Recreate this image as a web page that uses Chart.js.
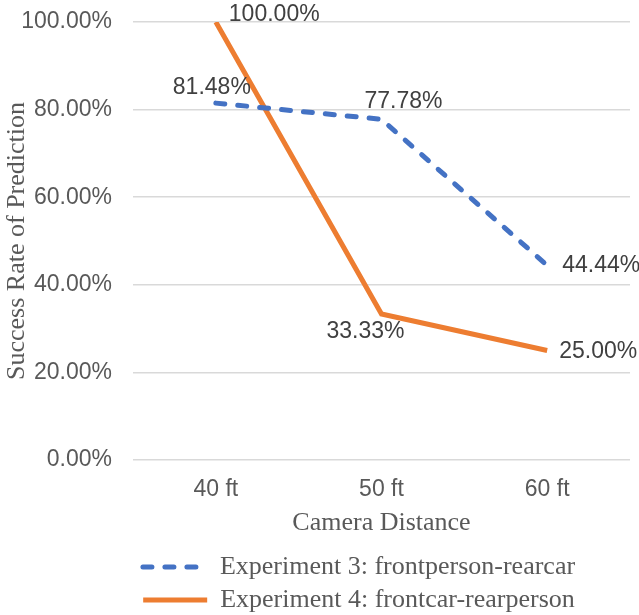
<!DOCTYPE html>
<html>
<head>
<meta charset="utf-8">
<script src="https://cdn.jsdelivr.net/npm/chart.js@4"></script>
<style>
html, body { margin: 0; padding: 0; background: #fff; }
#wrap { width: 639px; height: 615px; }
</style>
</head>
<body>
<div id="wrap"><canvas id="resultChart"></canvas></div>
<script>
const categories = ['40 ft', '50 ft', '60 ft'];
const exp3Values = [81.48, 77.78, 44.44];
const exp4Values = [100.00, 33.33, 25.00];
const yTicks = [0, 20, 40, 60, 80, 100];

// where each value label sits relative to its point: [dx, dy, align]
const exp3LabelPos = [[-4, -15, 'center'], [22, -18, 'center'], [15, 0, 'left']];
const exp4LabelPos = [[13, -7, 'left'], [-16, 18, 'center'], [12, 1, 'left']];

const sans = '"Liberation Sans", Arial, sans-serif';
const serif = '"Liberation Serif", "Times New Roman", serif';

const pointLabels = {
    id: 'pointLabels',
    afterDatasetsDraw(chart) {
        const c = chart.ctx;
        c.save();
        c.font = '23px ' + sans;
        c.fillStyle = '#404040';
        c.textBaseline = 'middle';
        chart.data.datasets.forEach((ds, i) => {
            chart.getDatasetMeta(i).data.forEach((pt, j) => {
                const [dx, dy, align] = ds.labelPos[j];
                c.textAlign = align;
                c.fillText(ds.data[j].toFixed(2) + '%', pt.x + dx, pt.y + dy);
            });
        });
        c.restore();
    }
};

// nudge the legend block to where the original has it
const legendShift = {
    id: 'legendShift',
    afterLayout(chart) {
        const lg = chart.legend;
        lg.left += 44; lg.right += 44;
        lg.top += 8; lg.bottom += 8;
    }
};

const ctx = document.getElementById('resultChart');

new Chart(ctx, {
    type: 'line',
    data: {
        labels: categories,
        datasets: [
            {
                label: 'Experiment 3: frontperson-rearcar',
                data: exp3Values,
                labelPos: exp3LabelPos,
                borderColor: '#4472C4',
                backgroundColor: '#4472C4',
                borderWidth: 5,
                borderDash: [9, 13],
                borderCapStyle: 'round',
                pointRadius: 0,
                tension: 0
            },
            {
                label: 'Experiment 4: frontcar-rearperson',
                data: exp4Values,
                labelPos: exp4LabelPos,
                borderColor: '#ED7D31',
                backgroundColor: '#ED7D31',
                borderWidth: 5,
                pointRadius: 0,
                tension: 0
            }
        ]
    },
    options: {
        responsive: true,
        maintainAspectRatio: false,
        animation: false,
        layout: { padding: { top: 22, right: 9, left: 0, bottom: 0 } },
        plugins: {
            tooltip: { enabled: false },
            legend: {
                position: 'bottom',
                labels: {
                    usePointStyle: true,
                    pointStyle: 'line',
                    pointStyleWidth: 64,
                    padding: 7,
                    color: '#595959',
                    font: { family: serif, size: 26 },
                    generateLabels(chart) {
                        const items = Chart.defaults.plugins.legend.labels.generateLabels(chart);
                        items.forEach(it => {
                            const ds = chart.data.datasets[it.datasetIndex];
                            it.lineDash = ds.borderDash || [];
                            it.lineCap = ds.borderCapStyle || 'butt';
                            it.lineWidth = ds.borderWidth;
                            it.strokeStyle = ds.borderColor;
                        });
                        return items;
                    }
                }
            }
        },
        scales: {
            x: {
                offset: true,
                grid: { display: false, drawTicks: false },
                border: { display: false },
                ticks: { color: '#595959', font: { family: sans, size: 23 }, padding: 16 },
                title: {
                    display: true,
                    text: 'Camera Distance',
                    color: '#595959',
                    font: { family: serif, size: 26 },
                    padding: { top: 0, bottom: 0 }
                },
                afterFit(scale) { scale.height = 79; }
            },
            y: {
                min: 0,
                max: 100,
                afterBuildTicks(scale) { scale.ticks = yTicks.map(v => ({ value: v })); },
                grid: { color: '#D9D9D9', lineWidth: 1.5, drawTicks: true, tickLength: 21, tickColor: 'rgba(0,0,0,0)' },
                border: { display: false },
                ticks: {
                    color: '#595959',
                    font: { family: sans, size: 23 },
                    padding: 0,
                    callback: v => v.toFixed(2) + '%'
                },
                title: {
                    display: true,
                    text: 'Success Rate of Prediction',
                    color: '#595959',
                    font: { family: serif, size: 26 },
                    padding: { top: 2, bottom: 0 }
                },
                afterFit(scale) { scale.width = 133; }
            }
        }
    },
    plugins: [pointLabels, legendShift]
});
</script>
</body>
</html>
